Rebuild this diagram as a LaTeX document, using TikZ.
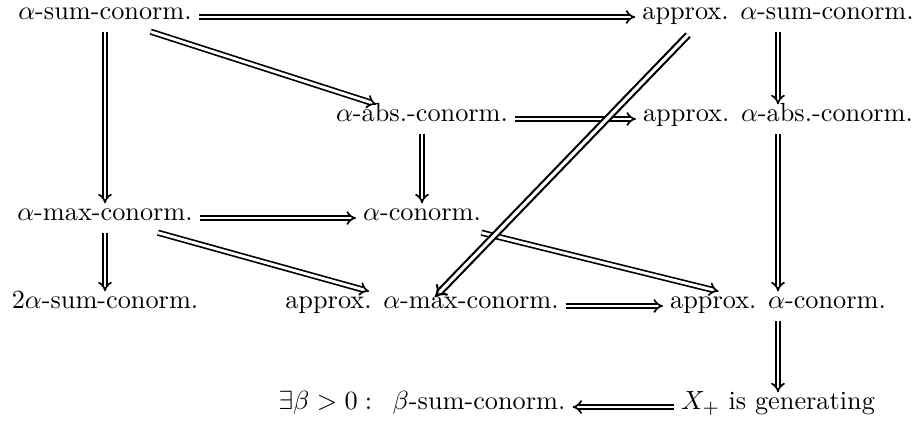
\documentclass[tikz,border=0pt]{standalone}
\usetikzlibrary{arrows.meta,calc}
\begin{document}
\begin{tikzpicture}[x={(0.41667pt,0)}, y={(0,-0.41667pt)},
  cell/.style={font=\fontsize{10.95}{13}\selectfont, inner xsep=3pt, inner ysep=3pt, outer sep=0pt, text height=1ex, text depth=0.45ex},
  imp/.style={double, double distance=1.2pt, line width=0.7pt, -{Implies}},
  bigimp/.style={double, double distance=1.3pt, line width=0.9pt, -{Implies}}]
\useasboundingbox (0,0) rectangle (922,430);
\node[cell] (A) at (105,17) {$\alpha$-sum-conorm.};
\node[cell] (B) at (778,17) {approx. $\alpha$-sum-conorm.};
\node[cell] (C) at (422,119) {$\alpha$-abs.-conorm.};
\node[cell] (D) at (778,119) {approx. $\alpha$-abs.-conorm.};
\node[cell] (E) at (105,218) {$\alpha$-max-conorm.};
\node[cell] (F) at (422,218) {$\alpha$-conorm.};
\node[cell] (G) at (105,306) {$2\alpha$-sum-conorm.};
\node[cell] (H) at (422,306) {approx. $\alpha$-max-conorm.};
\node[cell] (I) at (778,306) {approx. $\alpha$-conorm.};
\node[cell] (J) at (778,407) {$X_+$ is generating};
\node[cell] (K) at (422,407) {$\exists\beta>0:\ \,\beta$-sum-conorm.};
\draw[imp] (A) -- (B);
\draw[imp] (A) -- (E);
\draw[imp] (A) -- (C);
\draw[imp] (B) -- (D);
\draw[imp] (C) -- (D);
\draw[imp] (C) -- (F);
\draw[imp] (D) -- (I);
\draw[imp] (E) -- (F);
\draw[imp] (E) -- (G);
\draw[imp] (E) -- (H);
\draw[imp] (F) -- (I);
\draw[imp] (H) -- (I);
\draw[imp] (I) -- (J);
\draw[imp] (J) -- (K);
\draw[bigimp] ($(B)+(-90,18)$) -- ($(H)+(13,-9)$);
\end{tikzpicture}
\end{document}
